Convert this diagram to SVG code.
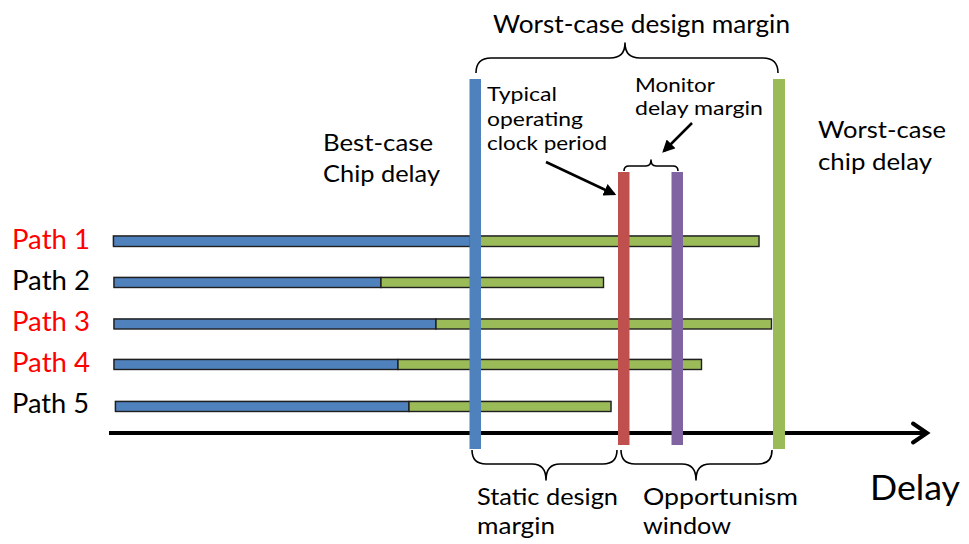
<svg xmlns="http://www.w3.org/2000/svg" width="969" height="544" viewBox="0 0 969 544">
  <style>
    text { font-family: "Lato", "Liberation Sans", sans-serif; fill: #000; }
    .lbl { font-size: 22px; }
    .small { font-size: 20px; }
    .big { font-size: 25px; }
    .cap { font-size: 24px; }
    .path-red { fill: #FF0000; font-size: 27px; }
    .path-blk { fill: #000; font-size: 27px; }
    .seg { stroke: #1f1f1f; stroke-width: 1.4; }
    .shadow { fill: #b8b8b8; }
    .blue { fill: #4F81BD; }
    .green { fill: #9BBB59; }
    .brace { fill: none; stroke: #000; stroke-width: 1.6; stroke-linejoin: round; }
    .ptr { stroke: #000; stroke-width: 2.5; marker-end: url(#head); }
  </style>
  <defs>
    <marker id="head" viewBox="0 0 10 10" refX="8" refY="5" markerWidth="5" markerHeight="5" orient="auto" markerUnits="strokeWidth">
      <path d="M0,0 L10,5 L0,10 z" fill="#000"/>
    </marker>
  </defs>
  <rect width="969" height="544" fill="#fff"/>

  <!-- path labels -->
  <g id="labels">
    <text class="path-red" x="12" y="248.5" textLength="78" lengthAdjust="spacingAndGlyphs">Path 1</text>
    <text class="path-blk" x="12" y="289.5" textLength="78" lengthAdjust="spacingAndGlyphs">Path 2</text>
    <text class="path-red" x="12" y="330.5" textLength="78" lengthAdjust="spacingAndGlyphs">Path 3</text>
    <text class="path-red" x="12" y="371.5" textLength="78" lengthAdjust="spacingAndGlyphs">Path 4</text>
    <text class="path-blk" x="12" y="412.5" textLength="77" lengthAdjust="spacingAndGlyphs">Path 5</text>
  </g>

  <!-- path delay bars: blue = fast part, green = remaining delay -->
  <g id="path1">
    <rect class="shadow" x="112.5" y="235" width="647" height="11"/>
    <rect class="blue seg" x="113.5" y="236" width="357" height="10.5"/>
    <rect class="green seg" x="470.5" y="236" width="288.5" height="10.5"/>
  </g>
  <g id="path2">
    <rect class="shadow" x="113" y="276.5" width="491" height="11"/>
    <rect class="blue seg" x="114" y="277.5" width="267" height="10"/>
    <rect class="green seg" x="381" y="277.5" width="222.5" height="10"/>
  </g>
  <g id="path3">
    <rect class="shadow" x="113" y="318" width="659" height="11"/>
    <rect class="blue seg" x="114" y="319" width="322" height="10"/>
    <rect class="green seg" x="436" y="319" width="335.5" height="10"/>
  </g>
  <g id="path4">
    <rect class="shadow" x="113" y="358.5" width="589" height="11"/>
    <rect class="blue seg" x="114" y="359.5" width="284" height="10"/>
    <rect class="green seg" x="398" y="359.5" width="303.5" height="10"/>
  </g>
  <g id="path5">
    <rect class="shadow" x="114.5" y="400.5" width="497" height="11"/>
    <rect class="blue seg" x="115.5" y="401.5" width="293.5" height="10"/>
    <rect class="green seg" x="409" y="401.5" width="202" height="10"/>
  </g>

  <!-- delay axis -->
  <g id="axis">
    <line x1="109" y1="433" x2="926" y2="433" stroke="#000" stroke-width="4"/>
    <polyline points="913,423.5 927,433 913,442.5" fill="none" stroke="#000" stroke-width="4" stroke-linecap="round" stroke-linejoin="miter"/>
    <text x="870" y="500" font-size="34" textLength="90" lengthAdjust="spacingAndGlyphs">Delay</text>
  </g>

  <!-- timing markers -->
  <g id="best-case">
    <rect x="469.5" y="79" width="11.5" height="370" fill="#4F81BD"/>
    <text class="cap" x="323" y="150.5" textLength="110" lengthAdjust="spacingAndGlyphs">Best-case</text>
    <text class="cap" x="323" y="181.5" textLength="117" lengthAdjust="spacingAndGlyphs">Chip delay</text>
  </g>
  <g id="clock-period">
    <rect x="618" y="172" width="11.5" height="273" fill="#C0504D"/>
    <text class="small" x="487" y="101" textLength="70" lengthAdjust="spacingAndGlyphs">Typical</text>
    <text class="small" x="487" y="125.5" textLength="96" lengthAdjust="spacingAndGlyphs">operating</text>
    <text class="small" x="487" y="150" textLength="120" lengthAdjust="spacingAndGlyphs">clock period</text>
  </g>
  <g id="monitor">
    <rect x="671.5" y="172" width="11.5" height="273" fill="#8064A2"/>
    <text class="small" x="635" y="91.5" textLength="80" lengthAdjust="spacingAndGlyphs">Monitor</text>
    <text class="small" x="635" y="115" textLength="128" lengthAdjust="spacingAndGlyphs">delay margin</text>
  </g>
  <g id="worst-case">
    <rect x="773" y="79" width="12" height="370" fill="#9BBB59"/>
    <text class="cap" x="818" y="137.5" textLength="128" lengthAdjust="spacingAndGlyphs">Worst-case</text>
    <text class="cap" x="818" y="170" textLength="114" lengthAdjust="spacingAndGlyphs">chip delay</text>
  </g>

  <!-- margin braces and their captions -->
  <g id="worst-case-margin">
    <path class="brace" d="M476,73 Q476,58 491,58 L610,58 Q625,58 625,43 Q625,58 640,58 L763,58 Q778,58 778,73"/>
    <text class="big" x="493" y="33" textLength="297" lengthAdjust="spacingAndGlyphs">Worst-case design margin</text>
  </g>
  <g id="monitor-margin">
    <path class="brace" d="M624,171 Q624,166 629,166 L646,166 Q651,166 651,160 Q651,166 656,166 L673,166 Q678,166 678,171"/>
  </g>
  <g id="static-margin">
    <path class="brace" d="M472,450 Q472,464 486,464 L532,464 Q546,464 546,480 Q546,464 560,464 L603,464 Q617,464 617,450"/>
    <text class="cap" x="477" y="505" textLength="141" lengthAdjust="spacingAndGlyphs">Static design</text>
    <text class="cap" x="477" y="534" textLength="78" lengthAdjust="spacingAndGlyphs">margin</text>
  </g>
  <g id="opportunism-window">
    <path class="brace" d="M621,450 Q621,464 635,464 L682,464 Q696,464 696,480 Q696,464 710,464 L758,464 Q772,464 772,450"/>
    <text class="cap" x="643" y="505" textLength="155" lengthAdjust="spacingAndGlyphs">Opportunism</text>
    <text class="cap" x="643" y="534" textLength="88" lengthAdjust="spacingAndGlyphs">window</text>
  </g>

  <!-- pointers -->
  <g id="connectors">
    <line class="ptr" x1="692" y1="123" x2="664" y2="151"/>
    <line class="ptr" x1="546" y1="162" x2="614" y2="194"/>
  </g>
</svg>
